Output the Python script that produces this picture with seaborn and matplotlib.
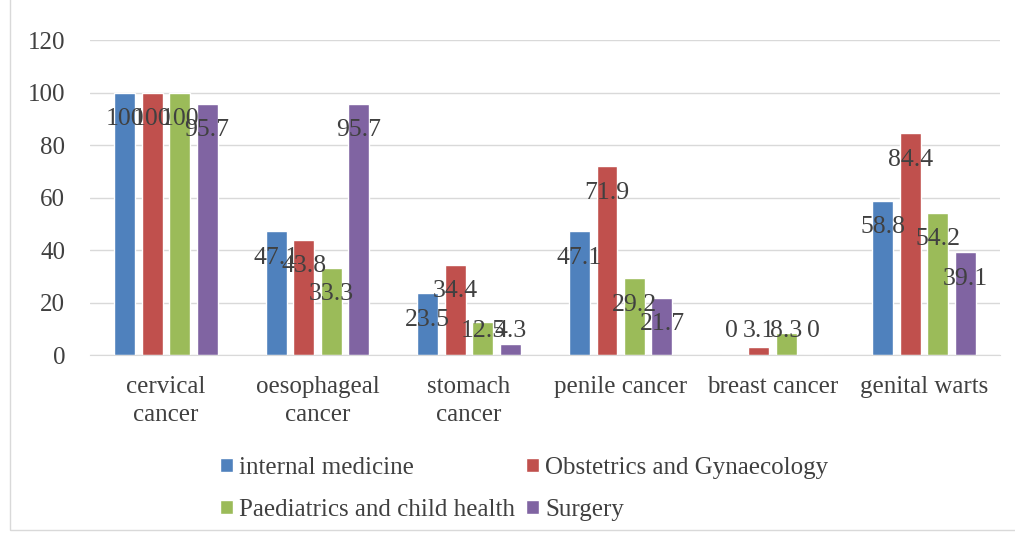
import pandas as pd
import matplotlib.pyplot as plt
import seaborn as sns
from matplotlib.patches import Rectangle

# data
categories = ['cervical\ncancer', 'oesophageal\ncancer', 'stomach\ncancer',
              'penile cancer', 'breast cancer', 'genital warts']
departments = ['internal medicine', 'Obstetrics and Gynaecology',
               'Paediatrics and child health', 'Surgery']
internal_medicine = [100, 47.1, 23.5, 47.1, 0, 58.8]
obs_gyn = [100, 43.8, 34.4, 71.9, 3.1, 84.4]
paediatrics = [100, 33.3, 12.5, 29.2, 8.3, 54.2]
surgery = [95.7, 95.7, 4.3, 21.7, 0, 39.1]
colors = ['#4F81BD', '#C0504D', '#9BBB59', '#8064A2']

series = [internal_medicine, obs_gyn, paediatrics, surgery]
rows = []
for dept, vals in zip(departments, series):
    for cat, v in zip(categories, vals):
        rows.append({'category': cat, 'department': dept, 'value': v})
df = pd.DataFrame(rows)

sns.set_style('white')
plt.rcParams['font.family'] = ['Liberation Serif', 'DejaVu Serif']

fig = plt.figure(figsize=(10.15, 5.35), dpi=100)
ax = fig.add_axes([0.0887, 0.3364, 0.8963, 0.5888])

sns.barplot(data=df, x='category', y='value', hue='department',
            palette=colors, width=0.725, gap=0.24, saturation=1,
            order=categories, hue_order=departments, ax=ax, legend=True)

ax.set_ylim(0, 120)
ax.set_yticks(range(0, 121, 20))
ax.set_xlim(-0.5, len(categories) - 0.5)
ax.yaxis.grid(True, color='#D9D9D9', linewidth=1)
ax.set_axisbelow(True)
for s in ['top', 'right', 'left']:
    ax.spines[s].set_visible(False)
ax.spines['bottom'].set_color('#D9D9D9')
ax.tick_params(axis='both', length=0, labelsize=18, colors='#404040')
ax.tick_params(axis='x', pad=15)
ax.tick_params(axis='y', pad=18)
for t in ax.get_xticklabels():
    t.set_linespacing(1.35)
ax.set_xlabel('')
ax.set_ylabel('')

# data labels (inside end, pushed up for short bars)
for cont, vals in zip(ax.containers, series):
    for bar, v in zip(cont, vals):
        xc = bar.get_x() + bar.get_width() / 2
        y = max(v - 10, 9.3)
        ax.text(xc, y, f'{v:g}', ha='center', va='center',
                fontsize=18.5, color='#404040')

# legend filled row by row like the original
handles, labels = ax.get_legend_handles_labels()
ax.get_legend().remove()
order = [0, 2, 1, 3]
leg = fig.legend([handles[i] for i in order], [labels[i] for i in order],
                 loc='upper left', bbox_to_anchor=(0.217, 0.146), ncol=2,
                 frameon=False, fontsize=18, handlelength=0.5, handleheight=0.5,
                 handletextpad=0.25, columnspacing=0.45, labelspacing=0.8,
                 borderpad=0, borderaxespad=0)
for t in leg.get_texts():
    t.set_color('#404040')

fig.patches.append(Rectangle((0.01, 0.01), 1.2, 1.2, transform=fig.transFigure,
                             fill=False, edgecolor='#D9D9D9', linewidth=1))

fig.savefig('out.png', dpi=100)
